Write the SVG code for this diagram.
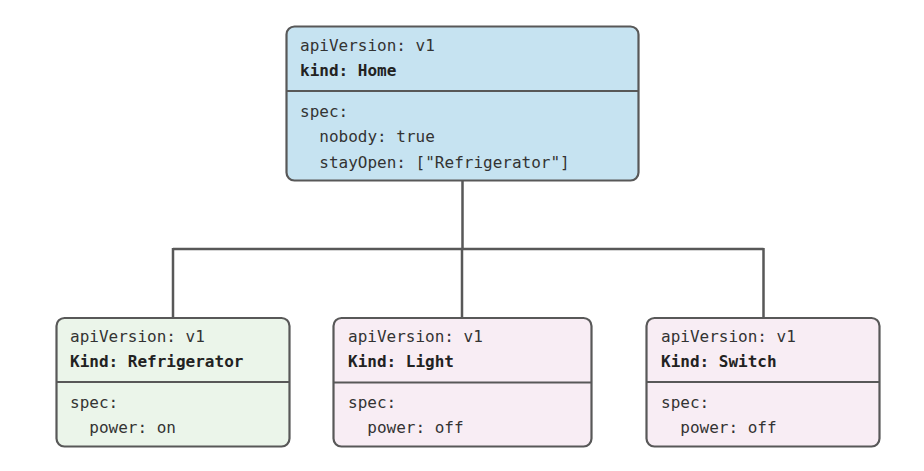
<svg xmlns="http://www.w3.org/2000/svg" width="924" height="471" viewBox="0 0 924 471">
<style>
.box{stroke:#585858;stroke-width:2.2}
.div{stroke:#585858;stroke-width:2.2}
.conn{stroke:#585858;stroke-width:2.5;fill:none}
text{font-family:"DejaVu Sans Mono","Liberation Mono",monospace;font-size:16px;fill:#333}
.b{font-weight:bold;fill:#222}
.blue{fill:#c6e3f1}
.green{fill:#ebf5ea}
.pink{fill:#f8edf4}
</style>
<rect width="924" height="471" fill="#ffffff"/>
<g id="connectors">
<path class="conn" d="M462.5 181 V249 M173 249 H763.5 M173 248 V318 M462 249 V318 M763.5 248 V318"/>
</g>
<g id="home">
<rect class="box blue" x="286.5" y="26.5" width="352" height="154" rx="8"/>
<line class="div" x1="286.5" y1="91" x2="638.5" y2="91"/>
<text x="300" y="51">apiVersion: v1</text>
<text x="300" y="76" class="b">kind: Home</text>
<text x="300" y="117">spec:</text>
<text x="300" y="142" xml:space="preserve">  nobody: true</text>
<text x="300" y="168" xml:space="preserve">  stayOpen: ["Refrigerator"]</text>
</g>
<g id="refrigerator">
<rect class="box green" x="56.5" y="318" width="233" height="128.5" rx="8"/>
<line class="div" x1="56.5" y1="382" x2="289.5" y2="382"/>
<text x="70" y="342">apiVersion: v1</text>
<text x="70" y="367" class="b">Kind: Refrigerator</text>
<text x="70" y="408">spec:</text>
<text x="70" y="433" xml:space="preserve">  power: on</text>
</g>
<g id="light">
<rect class="box pink" x="333.5" y="318" width="258" height="128.5" rx="8"/>
<line class="div" x1="333.5" y1="382.5" x2="591.5" y2="382.5"/>
<text x="348" y="342">apiVersion: v1</text>
<text x="348" y="367" class="b">Kind: Light</text>
<text x="348" y="408">spec:</text>
<text x="348" y="433" xml:space="preserve">  power: off</text>
</g>
<g id="switch">
<rect class="box pink" x="646.5" y="318" width="233" height="128.5" rx="8"/>
<line class="div" x1="646.5" y1="382" x2="879.5" y2="382"/>
<text x="661" y="342">apiVersion: v1</text>
<text x="661" y="367" class="b">Kind: Switch</text>
<text x="661" y="408">spec:</text>
<text x="661" y="433" xml:space="preserve">  power: off</text>
</g>
</svg>
